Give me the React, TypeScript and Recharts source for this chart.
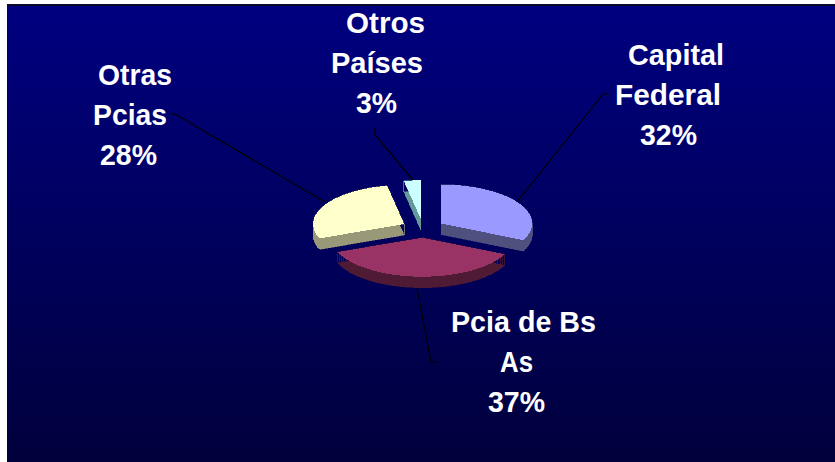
import { PieChart, Pie } from "recharts";

const categories = ["Capital Federal", "Pcia de Bs As", "Otras Pcias", "Otros Países"];
const shares = [32, 37, 28, 3];

const topColors = ["#9999FF", "#993366", "#FFFFCC", "#CCFFFF"];
const sideColors = ["#50507F", "#4F1A33", "#99997A", "#669999"];

// one row per wrapped label line: [text, left x, baseline y, width]
const labelLines: [string, number, number, number][][] = [
  [["Capital", 628, 65, 96], ["Federal", 615, 105, 106], ["32%", 640, 145, 57]],
  [["Pcia de Bs", 451, 332, 145], ["As", 500, 372, 33], ["37%", 488, 412, 57]],
  [["Otras", 98, 85, 74], ["Pcias", 93, 125, 74], ["28%", 100, 165, 57]],
  [["Otros", 346, 33, 79], ["Países", 331, 73, 92], ["3%", 356, 113, 41]],
];
const leaderLines = [
  "517,202 603,94 609,94",
  "417,288 431,362 437,362",
  "325,202 175,114 170,114",
  "413,180 375,135 375,128",
];

const data = categories.map((name, i) => ({ name, value: shares[i], fill: topColors[i] }));

const FLATTEN = 0.4286;
const EXPLODE = 21.5;
const DEPTH = 11;

function TiltedSlice(props: any) {
  const { cx, cy, outerRadius, startAngle, endAngle, fill } = props;
  const rad = Math.PI / 180;
  const mid = ((startAngle + endAngle) / 2) * rad;
  const ry = outerRadius * FLATTEN;
  const ox = cx + EXPLODE * Math.cos(mid);
  const oy = cy - EXPLODE * FLATTEN * Math.sin(mid);
  const outline: [number, number][] = [[ox, oy]];
  const steps = Math.max(2, Math.ceil(Math.abs(endAngle - startAngle) / 3));
  for (let i = 0; i <= steps; i++) {
    const a = (startAngle + ((endAngle - startAngle) * i) / steps) * rad;
    outline.push([ox + outerRadius * Math.cos(a), oy - ry * Math.sin(a)]);
  }
  const top = "M" + outline.map((p) => p.join(",")).join("L") + "Z";
  let side = "";
  outline.forEach((p, i) => {
    const q = outline[(i + 1) % outline.length];
    side += `M${p[0]},${p[1]}L${q[0]},${q[1]}L${q[0]},${q[1] + DEPTH}L${p[0]},${p[1] + DEPTH}Z`;
  });
  const idx = topColors.indexOf(fill);
  return (
    <g shapeRendering="crispEdges">
      <path d={side} fill={sideColors[idx]} stroke={sideColors[idx]} strokeWidth={0.5} />
      <path d={top} fill={fill} />
    </g>
  );
}

function renderLabel(props: any) {
  const rows = labelLines[props.index];
  return (
    <g key={props.index}>
      {rows.map(([text, x, y, w]) => (
        <text
          key={text}
          x={x}
          y={y}
          textLength={w}
          lengthAdjust="spacingAndGlyphs"
          fill="#FFFFFF"
          fontFamily="Liberation Sans"
          fontWeight="bold"
          fontSize={29.5}
        >
          {text}
        </text>
      ))}
    </g>
  );
}

function renderLeader(props: any) {
  return <polyline key={props.index} points={leaderLines[props.index]} fill="none" stroke="#000000" strokeWidth={1.2} />;
}

export default function App() {
  return (
    <div style={{ position: "absolute", left: 0, top: 0, width: 835, height: 462, background: "#FFFFFF", overflow: "hidden" }}>
      <div
        style={{
          position: "absolute",
          left: 7,
          top: 4,
          width: 828,
          height: 458,
          boxSizing: "border-box",
          borderTop: "2px solid #0A0A28",
          background: "linear-gradient(#000080, #00003C)",
        }}
      />
      <div style={{ position: "absolute", left: 0, top: 0 }}>
        <PieChart width={835} height={462} margin={{ top: 0, right: 0, bottom: 0, left: 0 }}>
          <Pie
            data={data}
            dataKey="value"
            nameKey="name"
            cx={423}
            cy={228.5}
            outerRadius={91}
            startAngle={90}
            endAngle={-270}
            stroke="none"
            shape={TiltedSlice}
            label={renderLabel}
            labelLine={renderLeader}
            isAnimationActive={false}
          />
        </PieChart>
      </div>
    </div>
  );
}
